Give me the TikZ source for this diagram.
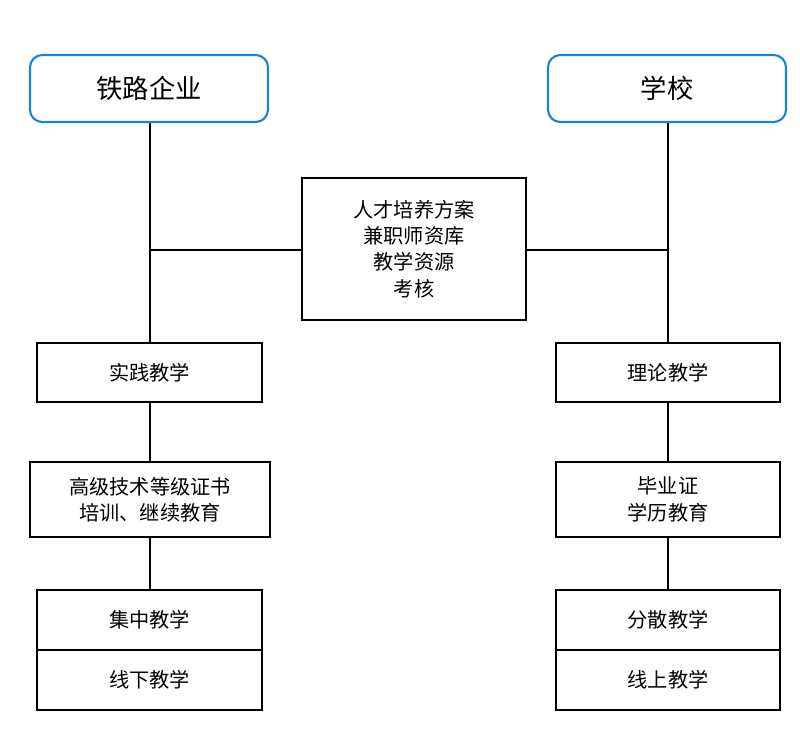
\documentclass[tikz,border=0pt]{standalone}
\usepackage{fontspec}
\setmainfont{Noto Sans CJK SC}
\begin{document}
\begin{tikzpicture}[x=0.02cm,y=-0.02cm,
  box/.style={draw=black,line width=0.8pt,inner sep=0pt,align=center,font=\fontsize{11.5pt}{15pt}\selectfont},
  top/.style={draw={rgb,255:red,30;green,130;blue,210},line width=1.2pt,rounded corners=7pt,inner sep=0pt,font=\fontsize{15pt}{18pt}\selectfont},
  ln/.style={line width=0.8pt}]
\useasboundingbox (0,0) rectangle (800,728);
\node[top,minimum width=238*0.02cm,minimum height=67*0.02cm] (qy) at (149,88.5) {铁路企业};
\node[top,minimum width=238*0.02cm,minimum height=67*0.02cm] (xx) at (667,88.5) {学校};
\node[box,minimum width=224*0.02cm,minimum height=142*0.02cm] (c) at (414,249) {人才培养方案\\兼职师资库\\教学资源\\考核};
\node[box,minimum width=225*0.02cm,minimum height=59*0.02cm] (sj) at (149.5,372.5) {实践教学};
\node[box,minimum width=224*0.02cm,minimum height=59*0.02cm] (ll) at (668,372.5) {理论教学};
\node[box,minimum width=240*0.02cm,minimum height=75*0.02cm] (gj) at (150,499.5) {高级技术等级证书\\培训、继续教育};
\node[box,minimum width=224*0.02cm,minimum height=75*0.02cm] (by) at (668,499.5) {毕业证\\学历教育};
\node[box,minimum width=225*0.02cm,minimum height=60*0.02cm] (jz) at (149.5,620) {集中教学};
\node[box,minimum width=225*0.02cm,minimum height=60*0.02cm] (xxj) at (149.5,680) {线下教学};
\node[box,minimum width=224*0.02cm,minimum height=60*0.02cm] (fs) at (668,620) {分散教学};
\node[box,minimum width=224*0.02cm,minimum height=60*0.02cm] (xs) at (668,680) {线上教学};
\coordinate (lm) at (150,250);
\coordinate (rm) at (668,250);
\draw[ln] (qy.south -| lm) -- (sj.north -| lm);
\draw[ln] (xx.south -| rm) -- (ll.north -| rm);
\draw[ln] (lm) -- (c.west |- lm);
\draw[ln] (c.east |- rm) -- (rm);
\draw[ln] (sj.south -| lm) -- (gj.north -| lm);
\draw[ln] (gj.south -| lm) -- (jz.north -| lm);
\draw[ln] (ll) -- (by);
\draw[ln] (by) -- (fs);
\end{tikzpicture}
\end{document}
